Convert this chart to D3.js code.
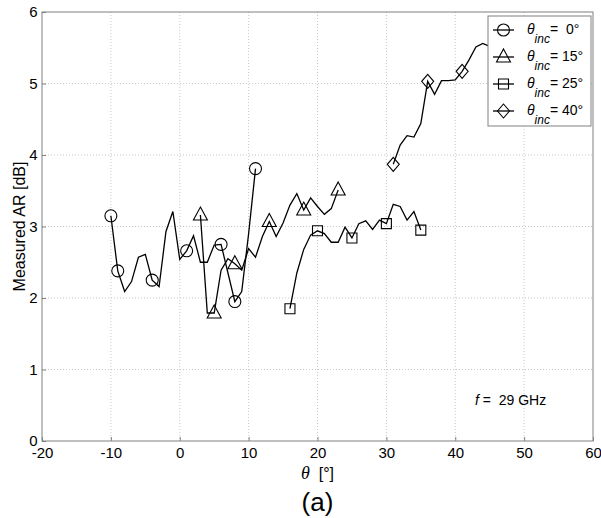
<!DOCTYPE html>
<html>
<head>
<meta charset="utf-8">
<script src="https://cdn.jsdelivr.net/npm/d3@7"></script>
<style>
  body { margin: 0; background: #fff; }
  text { font-family: Arial, "Liberation Sans", sans-serif; }
</style>
</head>
<body>
<svg id="chart" width="601" height="518"></svg>
<script>
// data
var xTicks = [-20, -10, 0, 10, 20, 30, 40, 50, 60];
var yTicks = [0, 1, 2, 3, 4, 5, 6];

var inc0 = [[-10,3.15],[-9,2.38],[-8,2.09],[-7,2.23],[-6,2.57],[-5,2.61],[-4,2.25],[-3,2.16],[-2,2.93],[-1,3.21],
  [0,2.54],[1,2.66],[2,2.87],[3,2.5],[4,2.5],[5,2.74],[6,2.75],[7,2.35],[8,1.95],[9,2.09],[10,2.9],[11,3.81]];
var inc0Marks = [-10, -9, -4, 1, 6, 8, 11];

var inc15 = [[3,3.16],[4,1.79],[5,1.79],[6,2.39],[7,2.55],[8,2.48],[9,2.39],[10,2.69],[11,2.57],[12,2.86],
  [13,3.07],[14,2.86],[15,3.05],[16,3.3],[17,3.46],[18,3.23],[19,3.4],[20,3.28],[21,3.17],[22,3.25],[23,3.51]];
var inc15Marks = [3, 5, 8, 13, 18, 23];

var inc25 = [[16,1.85],[17,2.35],[18,2.68],[19,2.88],[20,2.94],[21,2.9],[22,2.78],[23,2.78],[24,2.99],[25,2.84],
  [26,3.04],[27,3.08],[28,2.96],[29,3.09],[30,3.04],[31,3.31],[32,3.28],[33,3.09],[34,3.21],[35,2.95]];
var inc25Marks = [16, 20, 25, 30, 35];

var inc40 = [[31,3.87],[32,4.14],[33,4.27],[34,4.25],[35,4.44],[36,5.03],[37,4.85],[38,5.04],[39,5.04],[40,5.05],
  [41,5.17],[42,5.33],[43,5.51],[44,5.56],[45,5.52]];
var inc40Marks = [31, 36, 41];

var legendLabels = [' 0°', '15°', '25°', '40°'];

var svg = d3.select('#chart');
var pLeft = 42, pRight = 593, pTop = 12, pBottom = 441;

var x = d3.scaleLinear().domain([-20, 60]).range([pLeft, pRight]);
var y = d3.scaleLinear().domain([0, 6]).range([pBottom, pTop]);

// grid
svg.append('g').selectAll('line').data(xTicks.slice(1, -1)).enter().append('line')
  .attr('x1', function(d){ return x(d); }).attr('x2', function(d){ return x(d); })
  .attr('y1', pTop).attr('y2', pBottom)
  .attr('stroke', '#c8c8c8').attr('stroke-dasharray', '1,2');
svg.append('g').selectAll('line').data(yTicks.slice(1, -1)).enter().append('line')
  .attr('y1', function(d){ return y(d); }).attr('y2', function(d){ return y(d); })
  .attr('x1', pLeft).attr('x2', pRight)
  .attr('stroke', '#c8c8c8').attr('stroke-dasharray', '1,2');

// axes
var fmt = function(d){ return String(d); };
var xAxis = svg.append('g').attr('transform', 'translate(0,' + pBottom + ')')
  .call(d3.axisBottom(x).tickValues(xTicks).tickSize(-4).tickPadding(6.5).tickFormat(fmt));
var yAxis = svg.append('g').attr('transform', 'translate(' + pLeft + ',0)')
  .call(d3.axisLeft(y).tickValues(yTicks).tickSize(-4).tickPadding(4.5).tickFormat(fmt));
[xAxis, yAxis].forEach(function(a){
  a.select('.domain').remove();
  a.selectAll('line').attr('stroke', '#808080');
  a.selectAll('text').attr('font-size', 15).attr('fill', '#000')
    .attr('font-family', 'Arial, "Liberation Sans", sans-serif');
});
svg.append('rect').attr('x', pLeft).attr('y', pTop)
  .attr('width', pRight - pLeft).attr('height', pBottom - pTop)
  .attr('fill', 'none').attr('stroke', '#808080');

// markers
function markerPath(kind) {
  if (kind === 'diamond') return 'M0,-7L6,0L0,7L-6,0Z';
  if (kind === 'triangle') return 'M0,-8L7,5L-7,5Z';
  if (kind === 'square') return 'M-5,-5L5,-5L5,5L-5,5Z';
  return d3.symbol().type(d3.symbolCircle).size(113)();
}

var series = [
  {data: inc0, marks: inc0Marks, kind: 'circle'},
  {data: inc15, marks: inc15Marks, kind: 'triangle'},
  {data: inc25, marks: inc25Marks, kind: 'square'},
  {data: inc40, marks: inc40Marks, kind: 'diamond'}
];

var line = d3.line().x(function(d){ return x(d[0]); }).y(function(d){ return y(d[1]); });

series.forEach(function(s){
  svg.append('path').datum(s.data).attr('d', line)
    .attr('fill', 'none').attr('stroke', '#000').attr('stroke-width', 1.3);
  var pts = s.data.filter(function(d){ return s.marks.indexOf(d[0]) >= 0; });
  svg.append('g').selectAll('path').data(pts).enter().append('path')
    .attr('d', markerPath(s.kind))
    .attr('transform', function(d){ return 'translate(' + x(d[0]) + ',' + y(d[1]) + ')'; })
    .attr('fill', 'none').attr('stroke', '#000').attr('stroke-width', 1.1);
});

// legend
var lg = svg.append('g');
lg.append('rect').attr('x', 488).attr('y', 16).attr('width', 103).attr('height', 110)
  .attr('fill', '#fff').attr('stroke', '#808080');
series.forEach(function(s, i){
  var ly = 30 + i * 27;
  lg.append('line').attr('x1', 493).attr('x2', 514).attr('y1', ly).attr('y2', ly)
    .attr('stroke', '#000').attr('stroke-width', 1.3);
  lg.append('path').attr('d', markerPath(s.kind))
    .attr('transform', 'translate(503.5,' + ly + ')')
    .attr('fill', 'none').attr('stroke', '#000').attr('stroke-width', 1.1);
  var t = lg.append('text').attr('x', 527).attr('y', ly + 4).attr('font-size', 14)
    .attr('xml:space', 'preserve');
  t.append('tspan').attr('font-style', 'italic').text('θ');
  t.append('tspan').attr('font-style', 'italic').attr('font-size', 12).attr('dy', 9).text('inc');
  t.append('tspan').attr('dy', -9).text('= ' + legendLabels[i]);
});

// labels
svg.append('text').attr('transform', 'translate(25,' + ((pTop + pBottom) / 2) + ') rotate(-90)')
  .attr('text-anchor', 'middle').attr('font-size', 16).text('Measured AR [dB]');

var xl = svg.append('text').attr('x', x(20)).attr('y', 479).attr('text-anchor', 'middle')
  .attr('font-size', 16).attr('xml:space', 'preserve');
xl.append('tspan').attr('font-style', 'italic').attr('font-family', '"Liberation Serif", serif')
  .attr('font-size', 18).text('θ');
xl.append('tspan').text('  [°]');

var fl = svg.append('text').attr('x', 475).attr('y', 405).attr('font-size', 14)
  .attr('xml:space', 'preserve');
fl.append('tspan').attr('font-style', 'italic').text('f');
fl.append('tspan').text(' =  29 GHz');

svg.append('text').attr('x', x(20)).attr('y', 511).attr('text-anchor', 'middle')
  .attr('font-family', '"Liberation Serif", "Times New Roman", serif').attr('font-size', 26).text('(a)');
</script>
</body>
</html>
